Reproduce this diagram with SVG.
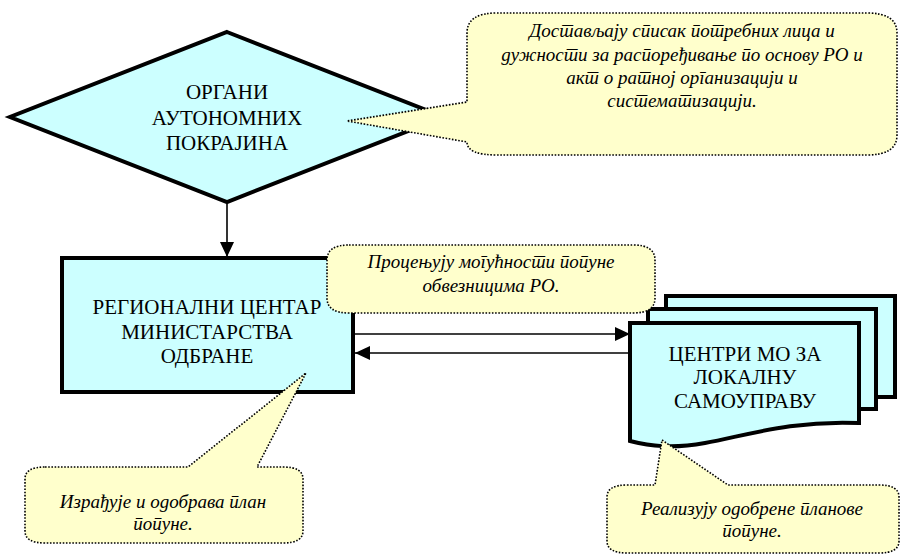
<svg xmlns="http://www.w3.org/2000/svg" width="902" height="557" viewBox="0 0 902 557">
<defs>
<marker id="ah" viewBox="0 0 15 14" refX="15" refY="7" markerWidth="15" markerHeight="14" markerUnits="userSpaceOnUse" orient="auto">
<path d="M0,0 L15,7 L0,14 Z" fill="#000"/>
</marker>
</defs>
<rect width="902" height="557" fill="#fff"/>
<g id="organi">
<polygon points="227,32 444,117 227,202 10,117" fill="#CCFFFF" stroke="#000" stroke-width="4"/>
<text x="227" y="99" font-family="Liberation Serif, serif" font-size="21" text-anchor="middle">ОРГАНИ</text>
<text x="227" y="125" font-family="Liberation Serif, serif" font-size="21" text-anchor="middle">АУТОНОМНИХ</text>
<text x="227" y="150" font-family="Liberation Serif, serif" font-size="21" text-anchor="middle">ПОКРАЈИНА</text>
</g>
<g id="regionalni">
<rect x="62" y="258" width="291" height="134" fill="#CCFFFF" stroke="#000" stroke-width="4"/>
<text x="207" y="314" font-family="Liberation Serif, serif" font-size="21" text-anchor="middle">РЕГИОНАЛНИ ЦЕНТАР</text>
<text x="207" y="339" font-family="Liberation Serif, serif" font-size="21" text-anchor="middle">МИНИСТАРСТВА</text>
<text x="207" y="363" font-family="Liberation Serif, serif" font-size="21" text-anchor="middle">ОДБРАНЕ</text>
</g>
<g id="centri">
<rect x="666" y="296" width="229" height="101" fill="#CCFFFF" stroke="#000" stroke-width="4"/>
<rect x="648" y="309" width="228" height="100" fill="#CCFFFF" stroke="#000" stroke-width="4"/>
<path d="M630,323 H859 V423 C 790,420 745,436 705,443 C 672,449 650,446 630,441 Z" fill="#CCFFFF" stroke="#000" stroke-width="4"/>
<text x="745" y="361" font-family="Liberation Serif, serif" font-size="21" text-anchor="middle">ЦЕНТРИ МО ЗА</text>
<text x="745" y="384" font-family="Liberation Serif, serif" font-size="21" text-anchor="middle">ЛОКАЛНУ</text>
<text x="745" y="408" font-family="Liberation Serif, serif" font-size="21" text-anchor="middle">САМОУПРАВУ</text>
</g>
<g id="connectors" stroke="#000" stroke-width="1.6" fill="none">
<line x1="227" y1="204" x2="227" y2="257" marker-end="url(#ah)"/>
<line x1="355" y1="334" x2="630" y2="334" marker-end="url(#ah)"/>
<line x1="630" y1="353" x2="355" y2="353" marker-end="url(#ah)"/>
</g>
<g id="callout-top">
<path d="M497,13 H867 Q897,13 897,33 V135 Q897,155 867,155 H497 Q467,155 467,142 L347,121 L467,102 V33 Q467,13 497,13 Z" fill="#FFFFCC" stroke="#000" stroke-width="1.6" stroke-dasharray="1.6 1.6"/>
<text x="682" y="37" lang="sr" font-family="Liberation Serif, serif" font-size="19" font-style="italic" text-anchor="middle">Достављају списак потребних лица  и</text>
<text x="682" y="61" lang="sr" font-family="Liberation Serif, serif" font-size="19" font-style="italic" text-anchor="middle">дужности за распоређивање по основу РО и</text>
<text x="682" y="84" lang="sr" font-family="Liberation Serif, serif" font-size="19" font-style="italic" text-anchor="middle">акт о ратној организацији и</text>
<text x="682" y="107" lang="sr" font-family="Liberation Serif, serif" font-size="19" font-style="italic" text-anchor="middle">систематизацији.</text>
</g>
<g id="callout-mid">
<path d="M349,245 H633 Q655,245 655,260 V298 Q655,313 633,313 H349 Q327,313 327,298 V260 Q327,245 349,245 Z" fill="#FFFFCC" stroke="#000" stroke-width="1.6" stroke-dasharray="1.6 1.6"/>
<text x="491" y="268" lang="sr" font-family="Liberation Serif, serif" font-size="19" font-style="italic" text-anchor="middle">Процењују могућности попуне</text>
<text x="491" y="292" lang="sr" font-family="Liberation Serif, serif" font-size="19" font-style="italic" text-anchor="middle">обвезницима РО.</text>
</g>
<g id="callout-bl">
<path d="M45,467 H188 L306,373 L257,467 H283 Q303,467 303,479 V531 Q303,543 283,543 H45 Q25,543 25,531 V479 Q25,467 45,467 Z" fill="#FFFFCC" stroke="#000" stroke-width="1.6" stroke-dasharray="1.6 1.6"/>
<text x="163" y="508" lang="sr" font-family="Liberation Serif, serif" font-size="19" font-style="italic" text-anchor="middle">Израђује и одобрава план</text>
<text x="163" y="530" lang="sr" font-family="Liberation Serif, serif" font-size="19" font-style="italic" text-anchor="middle">попуне.</text>
</g>
<g id="callout-br">
<path d="M627,485 H655 L662,440 L728,485 H879 Q899,485 899,497 V541 Q899,553 879,553 H627 Q607,553 607,541 V497 Q607,485 627,485 Z" fill="#FFFFCC" stroke="#000" stroke-width="1.6" stroke-dasharray="1.6 1.6"/>
<text x="752" y="515" lang="sr" font-family="Liberation Serif, serif" font-size="19" font-style="italic" text-anchor="middle">Реализују одобрене планове</text>
<text x="752" y="537" lang="sr" font-family="Liberation Serif, serif" font-size="19" font-style="italic" text-anchor="middle">попуне.</text>
</g>
</svg>
